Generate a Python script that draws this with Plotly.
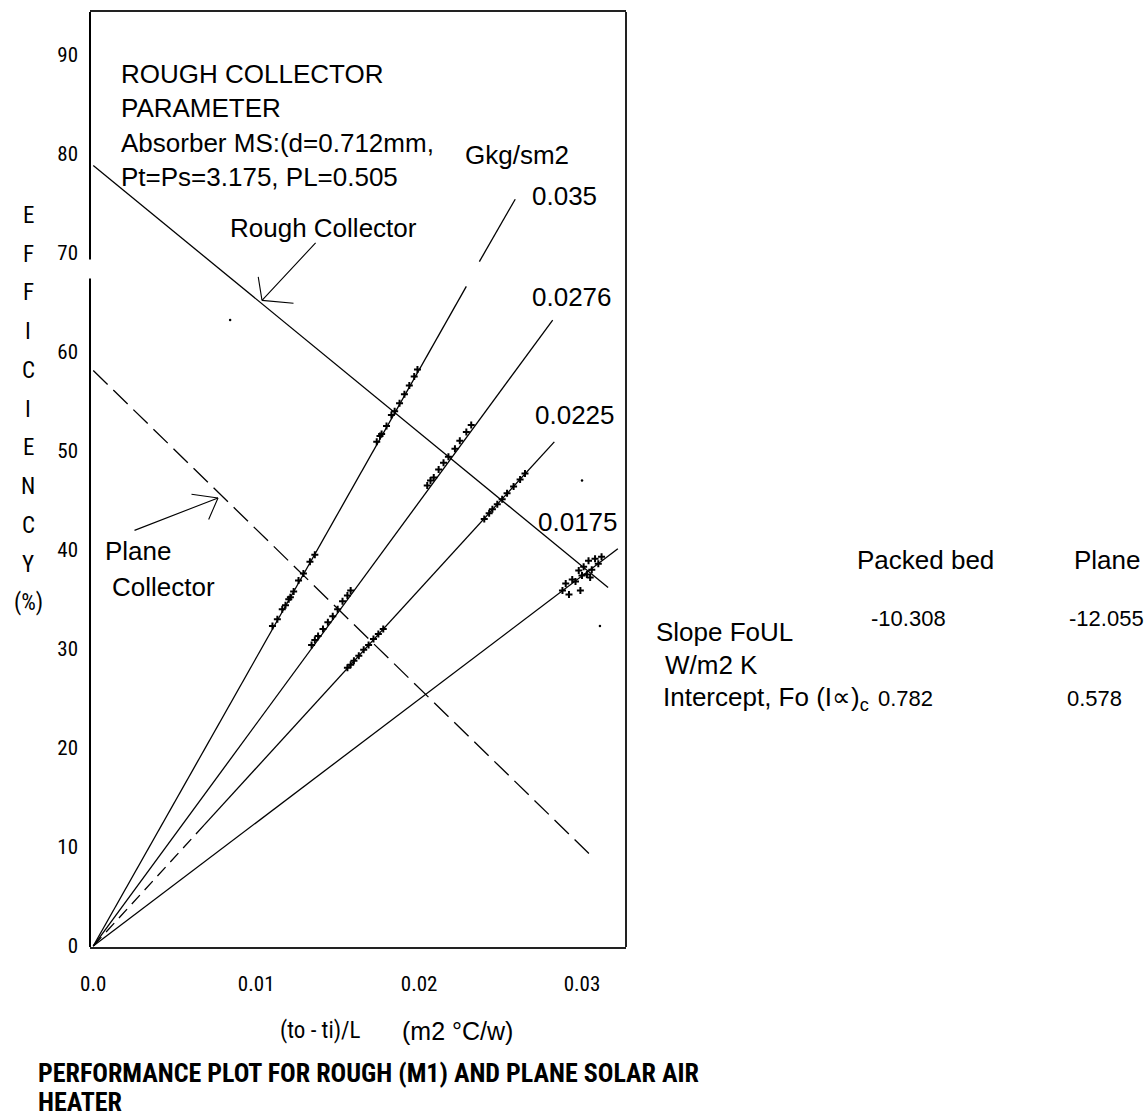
import plotly.graph_objects as go

# ---------------- data ----------------
x_ticks = [0.0, 0.01, 0.02, 0.03]
x_tick_labels = ["0.0", "0.01", "0.02", "0.03"]
y_ticks = [0, 10, 20, 30, 40, 50, 60, 70, 80, 90]
y_tick_labels = ["0", "10", "20", "30", "40", "50", "60", "70", "80", "90"]

# collector efficiency lines
rough_x = [0.0, 0.0316]
rough_y = [78.8, 36.2]
plane_x = [0.0, 0.0307]
plane_y = [58.1, 8.9]

# mass-flow (G, kg/s m2) lines from origin
G_labels = ["0.035", "0.0276", "0.0225", "0.0175"]
line_035_x = [0.0, 0.0229]
line_035_y = [0.0, 66.6]
line_035_ext_x = [0.0237, 0.0259]
line_035_ext_y = [69.1, 75.4]
line_0276_x = [0.0, 0.0282]
line_0276_y = [0.0, 63.2]
line_0225_dash_x = [0.0, 0.0068]
line_0225_dash_y = [0.0, 12.2]
line_0225_x = [0.0068, 0.0283]
line_0225_y = [12.2, 50.9]
line_0175_x = [0.0, 0.0322]
line_0175_y = [0.0, 40.1]

# measured points
pts_035_x = [0.0110, 0.0113, 0.0116, 0.0118, 0.0120, 0.0121, 0.0123, 0.0126, 0.0129, 0.0133, 0.0136,
             0.0174, 0.0176, 0.0177, 0.0180, 0.0183, 0.0185, 0.0188, 0.0191, 0.0194, 0.0197, 0.0199]
pts_035_y = [32.3, 33.0, 34.0, 34.4, 35.0, 35.2, 35.8, 36.9, 37.6, 38.8, 39.5,
             50.9, 51.5, 51.7, 52.5, 53.6, 54.0, 54.8, 55.7, 56.6, 57.5, 58.2]
pts_0276_x = [0.0134, 0.0136, 0.0138, 0.0141, 0.0144, 0.0147, 0.0150, 0.0153, 0.0156, 0.0158,
              0.0205, 0.0207, 0.0209, 0.0212, 0.0215, 0.0218, 0.0222, 0.0225, 0.0229, 0.0232]
pts_0276_y = [30.4, 30.9, 31.3, 32.0, 32.7, 33.3, 34.0, 34.8, 35.4, 35.9,
              46.5, 47.0, 47.3, 48.1, 48.8, 49.4, 50.2, 51.0, 51.9, 52.6]
pts_0225_x = [0.0156, 0.0158, 0.0160, 0.0163, 0.0166, 0.0169, 0.0172, 0.0175, 0.0178,
              0.0240, 0.0243, 0.0245, 0.0248, 0.0251, 0.0254, 0.0258, 0.0262, 0.0265]
pts_0225_y = [28.1, 28.4, 28.8, 29.3, 29.9, 30.4, 31.0, 31.5, 32.0,
              43.1, 43.7, 44.1, 44.6, 45.1, 45.7, 46.4, 47.1, 47.7]
pts_0175_x = [0.0288, 0.0290, 0.0292, 0.0294, 0.0296, 0.0298, 0.0300, 0.0301, 0.0303,
              0.0304, 0.0306, 0.0308, 0.0310, 0.0312, 0.0299, 0.0305]
pts_0175_y = [35.9, 36.6, 35.5, 37.0, 36.8, 37.9, 37.4, 38.3, 37.5,
              38.9, 38.0, 39.1, 38.6, 39.3, 35.9, 37.2]
stray_x = [0.0084, 0.0300, 0.0311]
stray_y = [63.2, 47.0, 32.3]

# ---------------- styling ----------------
SANS = "Liberation Sans, Arial, sans-serif"
NARROW = "Roboto Condensed, Liberation Sans Narrow, DejaVu Sans Condensed, sans-serif"
W, H = 1148, 1120
L, R, T, B = 90, 626, 10, 947


def PX(x):
    return (x - L) / (R - L)


def PY(y):
    return (B - y) / (B - T)


fig = go.Figure()


def add_line(xs, ys, dash="solid", width=1.3):
    fig.add_trace(go.Scatter(x=xs, y=ys, mode="lines",
                             line=dict(color="black", width=width, dash=dash),
                             hoverinfo="skip"))


add_line(rough_x, rough_y)
add_line(plane_x, plane_y, dash="20px,8px")
add_line(line_035_x, line_035_y)
add_line(line_035_ext_x, line_035_ext_y)
add_line(line_0276_x, line_0276_y)
add_line(line_0225_dash_x, line_0225_dash_y, dash="12px,7px")
add_line(line_0225_x, line_0225_y)
add_line(line_0175_x, line_0175_y)

for xs, ys in [(pts_035_x, pts_035_y), (pts_0276_x, pts_0276_y),
               (pts_0225_x, pts_0225_y), (pts_0175_x, pts_0175_y)]:
    fig.add_trace(go.Scatter(x=xs, y=ys, mode="markers",
                             marker=dict(symbol="cross-thin", size=5, color="black",
                                         line=dict(color="black", width=2))))
fig.add_trace(go.Scatter(x=stray_x, y=stray_y, mode="markers",
                         marker=dict(symbol="circle", size=2.5, color="black")))


def txt(s, x, y, size=26, family=SANS, xanchor="left"):
    return dict(text=s, x=PX(x), y=PY(y), xref="paper", yref="paper",
                showarrow=False, xanchor=xanchor, yanchor="middle",
                font=dict(size=size, family=family, color="black"))


ann = [
    txt("ROUGH COLLECTOR", 119, 72),
    txt("PARAMETER", 119, 106),
    txt("Absorber MS:(d=0.712mm,", 119, 141),
    txt("Pt=Ps=3.175, PL=0.505", 119, 175),
    txt("Gkg/sm2", 463, 153),
    txt(G_labels[0], 530, 194),
    txt("Rough Collector", 228, 226),
    txt(G_labels[1], 530, 296),
    txt(G_labels[2], 533, 414),
    txt(G_labels[3], 536, 521),
    txt("Plane", 103, 550),
    txt("Collector", 110, 586),
    # right-hand table
    txt("Packed bed", 855, 559),
    txt("Plane", 1072, 559),
    txt("-10.308", 869, 618, size=22),
    txt("-12.055", 1067, 618, size=22),
    txt("Slope FoUL", 654, 631),
    txt("W/m2 K", 663, 664),
    txt("Intercept, Fo (I\u221d)<sub>c</sub>", 661, 698),
    txt("0.782", 876, 698, size=22),
    txt("0.578", 1065, 698, size=22),
    # x-axis title
    txt("(to - ti)/L", 320, 1031, size=23, family=NARROW, xanchor="center"),
    txt("(m2 \u00b0C/w)", 400, 1031, size=25),
    # bottom caption
    txt("<b>PERFORMANCE PLOT FOR ROUGH (M1) AND PLANE SOLAR AIR</b>", 36, 1073, size=26, family=NARROW),
    txt("<b>HEATER</b>", 36, 1102, size=26, family=NARROW),
]

# vertical y-axis title letters
for i, ch in enumerate(["E", "F", "F", "I", "C", "I", "E", "N", "C", "Y", "(%)"]):
    ann.append(txt(ch, 28, 214 + i * 38.8, size=23, family=NARROW, xanchor="center"))


def seg(x0, y0, x1, y1):
    # thin stroke between two pixel positions (drawn as a headless arrow)
    return dict(x=PX(x0), y=PY(y0), xref="paper", yref="paper", text="",
                showarrow=True, ax=x1 - x0, ay=y1 - y0, arrowhead=0,
                arrowwidth=1.1, arrowcolor="black", standoff=0)


# Rough Collector arrow
ann += [seg(262, 299, 317, 240), seg(262, 299, 258, 274), seg(262, 299, 295, 302)]
# Plane Collector arrow
ann += [seg(218, 497, 133, 530), seg(218, 497, 190, 493), seg(218, 497, 208, 520)]

shapes = [
    dict(type="line", xref="paper", yref="paper", x0=1, x1=1, y0=0, y1=1,
         line=dict(color="#222", width=2)),
    dict(type="line", xref="paper", yref="paper", x0=0, x1=0, y0=0, y1=PY(277),
         line=dict(color="black", width=2)),
    dict(type="line", xref="paper", yref="paper", x0=0, x1=0, y0=PY(258), y1=1,
         line=dict(color="black", width=2)),
]

fig.update_layout(
    width=W, height=H,
    margin=dict(l=L, r=W - R, t=T, b=H - B),
    paper_bgcolor="white", plot_bgcolor="white",
    showlegend=False,
    font=dict(family=SANS, color="black"),
    annotations=ann, shapes=shapes,
    xaxis=dict(range=[-0.0002, 0.0327], tickvals=x_ticks, ticktext=x_tick_labels,
               showgrid=False, zeroline=False, showline=True, mirror=True,
               linecolor="#222", linewidth=2, ticks="", ticklabelstandoff=17,
               tickfont=dict(family=NARROW, size=21, color="black")),
    yaxis=dict(range=[-0.1, 94.3], tickvals=y_ticks, ticktext=y_tick_labels,
               showgrid=False, zeroline=False, showline=False, ticks="",
               ticklabelstandoff=11,
               tickfont=dict(family=NARROW, size=21, color="black")),
)

fig.write_html("out.html", config={"displayModeBar": False},
               post_script="document.body.style.margin='0px';")
